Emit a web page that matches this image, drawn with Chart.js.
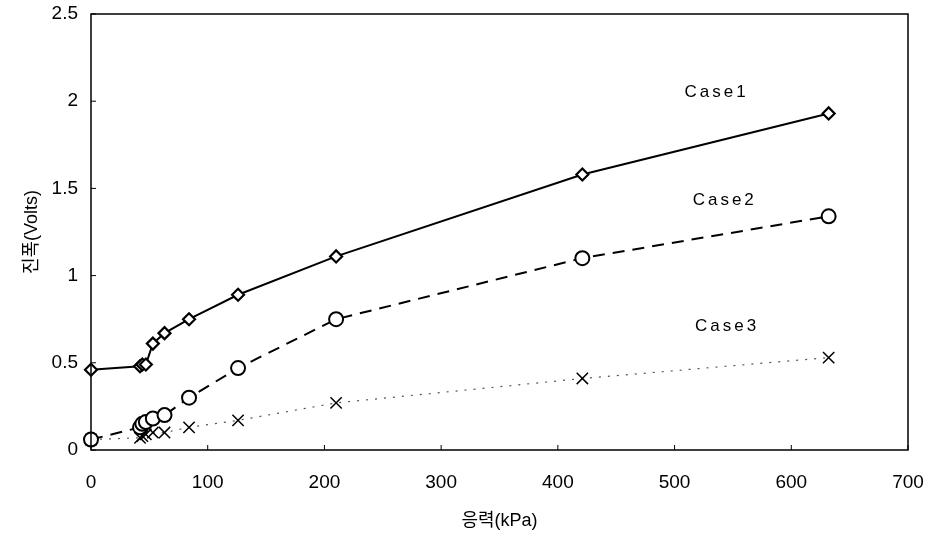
<!DOCTYPE html>
<html>
<head>
<meta charset="utf-8">
<script src="https://cdn.jsdelivr.net/npm/chart.js@4/dist/chart.umd.min.js"></script>
<style>
  html, body { margin: 0; padding: 0; background: #fff; }
  #wrap { width: 933px; height: 535px; position: relative; }
</style>
</head>
<body>
<div id="wrap"><canvas id="myChart"></canvas></div>
<script>
const stress = [0, 42, 44, 47, 53, 63, 84, 126, 210, 421, 632];
const case1 = [0.46, 0.48, 0.49, 0.49, 0.61, 0.67, 0.75, 0.89, 1.11, 1.58, 1.93];
const case2 = [0.06, 0.13, 0.15, 0.16, 0.18, 0.20, 0.30, 0.47, 0.75, 1.10, 1.34];
const case3 = [0.06, 0.07, 0.08, 0.09, 0.10, 0.10, 0.13, 0.17, 0.27, 0.41, 0.53];
const seriesNames = ['Case1', 'Case2', 'Case3'];
// where each name sits, in data units
const nameAt = [[536, 2.05], [543, 1.43], [545, 0.71]];

const FONT = "'Liberation Sans', 'Noto Sans CJK KR', sans-serif";

function toPoints(ys) {
    return stress.map((x, i) => ({ x: x, y: ys[i] }));
}

const framePlugin = {
    id: 'frame',
    afterDraw(chart) {
        const ctx = chart.ctx;
        const a = chart.chartArea;
        const xs = chart.scales.x;
        const ys = chart.scales.y;
        ctx.save();
        ctx.strokeStyle = '#000';
        ctx.lineWidth = 1.5;
        ctx.strokeRect(a.left, a.top, a.right - a.left, a.bottom - a.top);

        // inward tick marks
        ctx.lineWidth = 1;
        xs.ticks.forEach(t => {
            const px = xs.getPixelForValue(t.value);
            ctx.beginPath();
            ctx.moveTo(px, a.bottom);
            ctx.lineTo(px, a.bottom - 5);
            ctx.stroke();
        });
        ys.ticks.forEach(t => {
            const py = ys.getPixelForValue(t.value);
            ctx.beginPath();
            ctx.moveTo(a.left, py);
            ctx.lineTo(a.left + 5, py);
            ctx.stroke();
        });

        // series names
        ctx.fillStyle = '#000';
        ctx.font = '17px ' + FONT;
        ctx.textAlign = 'center';
        ctx.textBaseline = 'middle';
        if ('letterSpacing' in ctx) ctx.letterSpacing = '3px';
        seriesNames.forEach((name, i) => {
            ctx.fillText(name, xs.getPixelForValue(nameAt[i][0]), ys.getPixelForValue(nameAt[i][1]));
        });
        ctx.restore();
    }
};

document.addEventListener('DOMContentLoaded', () => {
    const ctx = document.getElementById('myChart').getContext('2d');
    new Chart(ctx, {
        type: 'scatter',
        data: {
            datasets: [
                {
                    label: 'Case1', data: toPoints(case1), showLine: true,
                    borderColor: '#000', borderWidth: 2,
                    pointStyle: 'rectRot', pointRadius: 6, pointBorderWidth: 2.2,
                    pointBackgroundColor: '#fff', pointBorderColor: '#000', clip: false
                },
                {
                    label: 'Case2', data: toPoints(case2), showLine: true,
                    borderColor: '#000', borderWidth: 2, borderDash: [12, 8],
                    pointStyle: 'circle', pointRadius: 7, pointBorderWidth: 2,
                    pointBackgroundColor: '#fff', pointBorderColor: '#000', clip: false
                },
                {
                    label: 'Case3', data: toPoints(case3), showLine: true,
                    borderColor: '#555', borderWidth: 1.2, borderDash: [2, 7],
                    pointStyle: 'crossRot', pointRadius: 8, pointBorderWidth: 1.5,
                    pointBorderColor: '#000', clip: false
                }
            ]
        },
        options: {
            responsive: true,
            maintainAspectRatio: false,
            animation: false,
            layout: { padding: { top: 14, right: 25, left: 0, bottom: 0 } },
            plugins: { legend: { display: false }, tooltip: { enabled: false } },
            scales: {
                x: {
                    type: 'linear', min: 0, max: 700,
                    grid: { display: false, drawTicks: false },
                    border: { display: false },
                    ticks: { stepSize: 100, autoSkip: false, maxRotation: 0, padding: 21,
                        color: '#000', font: { family: FONT, size: 19 } },
                    title: { display: true, text: '응력(kPa)', color: '#000',
                        font: { family: FONT, size: 18 }, padding: { top: 0, bottom: 3 } },
                    afterFit: s => {
                        s.height = 85;
                        s.paddingLeft = 0;
                        s.paddingRight = 0;
                    }
                },
                y: {
                    type: 'linear', min: 0, max: 2.5,
                    grid: { display: false, drawTicks: false },
                    border: { display: false },
                    ticks: { stepSize: 0.5, autoSkip: false, padding: 13,
                        color: '#000', font: { family: FONT, size: 19 },
                        callback: v => String(+v.toFixed(1)) },
                    title: { display: true, text: '진폭(Volts)', color: '#000',
                        font: { family: FONT, size: 18 }, padding: { top: 21, bottom: 0 } },
                    afterFit: s => {
                        s.width = 91;
                        s.paddingTop = 0;
                        s.paddingBottom = 0;
                    }
                }
            }
        },
        plugins: [framePlugin]
    });
});
</script>
</body>
</html>
